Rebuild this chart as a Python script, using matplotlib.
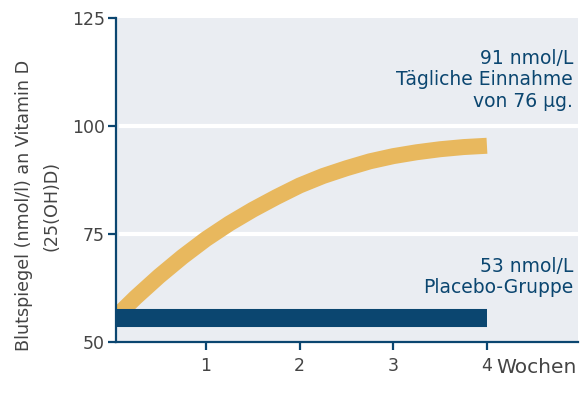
import matplotlib.pyplot as plt

# values
weeks = [0, 0.25, 0.5, 0.75, 1, 1.25, 1.5, 1.75, 2, 2.25, 2.5, 2.75, 3, 3.25, 3.5, 3.75, 4]
vitd_level = [55, 60.3, 65.2, 69.7, 73.8, 77.4, 80.6, 83.5, 86.2, 88.4, 90.2,
              91.8, 93.0, 93.9, 94.6, 95.1, 95.4]
placebo_weeks = [0, 4]
placebo_level = [55.6, 55.6]
xticks = [1, 2, 3, 4]
yticks = [50, 75, 100, 125]
grid_levels = [75, 100]

BLUE = "#0b4670"
ORANGE = "#e8b85e"
BG = "#eaedf2"
GRAY = "#444444"

fig = plt.figure(figsize=(5.86, 3.98), dpi=100)
ax = fig.add_axes([0.198, 0.141, 0.788, 0.814])
ax.set_facecolor(BG)

for lvl in grid_levels:
    ax.axhline(lvl, xmin=0.01, xmax=1, color="white", lw=3, zorder=1)

ax.plot(weeks, vitd_level, color=ORANGE, lw=11.5, solid_capstyle="butt",
        solid_joinstyle="round", zorder=2)
ax.plot(placebo_weeks, placebo_level, color=BLUE, lw=13, solid_capstyle="butt", zorder=3)

ax.set_xlim(0.04, 4.97)
ax.set_ylim(50, 125)
ax.set_xticks(xticks)
ax.set_yticks(yticks)

for s in ["top", "right"]:
    ax.spines[s].set_visible(False)
for s in ["left", "bottom"]:
    ax.spines[s].set_color(BLUE)
    ax.spines[s].set_linewidth(1.6)

ax.tick_params(axis="both", colors=BLUE, width=1.6, length=6, labelcolor=GRAY, labelsize=12.5)
ax.tick_params(axis="x", pad=5)
ax.tick_params(axis="y", pad=2)

# unit next to the "4" tick label
ax.text(4.1, 46.2, "Wochen", color=GRAY, fontsize=14.5, ha="left", va="top")

ax.set_ylabel("Blutspiegel (nmol/l) an Vitamin D\n(25(OH)D)", color=GRAY, fontsize=12.6,
              linespacing=1.65)
ax.yaxis.set_label_coords(-0.121, 0.42)

ax.text(0.99, 0.809, "91 nmol/L\nTägliche Einnahme\nvon 76 µg.", transform=ax.transAxes,
        ha="right", va="center", color=BLUE, fontsize=13.5, linespacing=1.15)
ax.text(0.99, 0.20, "53 nmol/L\nPlacebo-Gruppe", transform=ax.transAxes,
        ha="right", va="center", color=BLUE, fontsize=13.5, linespacing=1.15)

fig.savefig("out.png", dpi=100)
